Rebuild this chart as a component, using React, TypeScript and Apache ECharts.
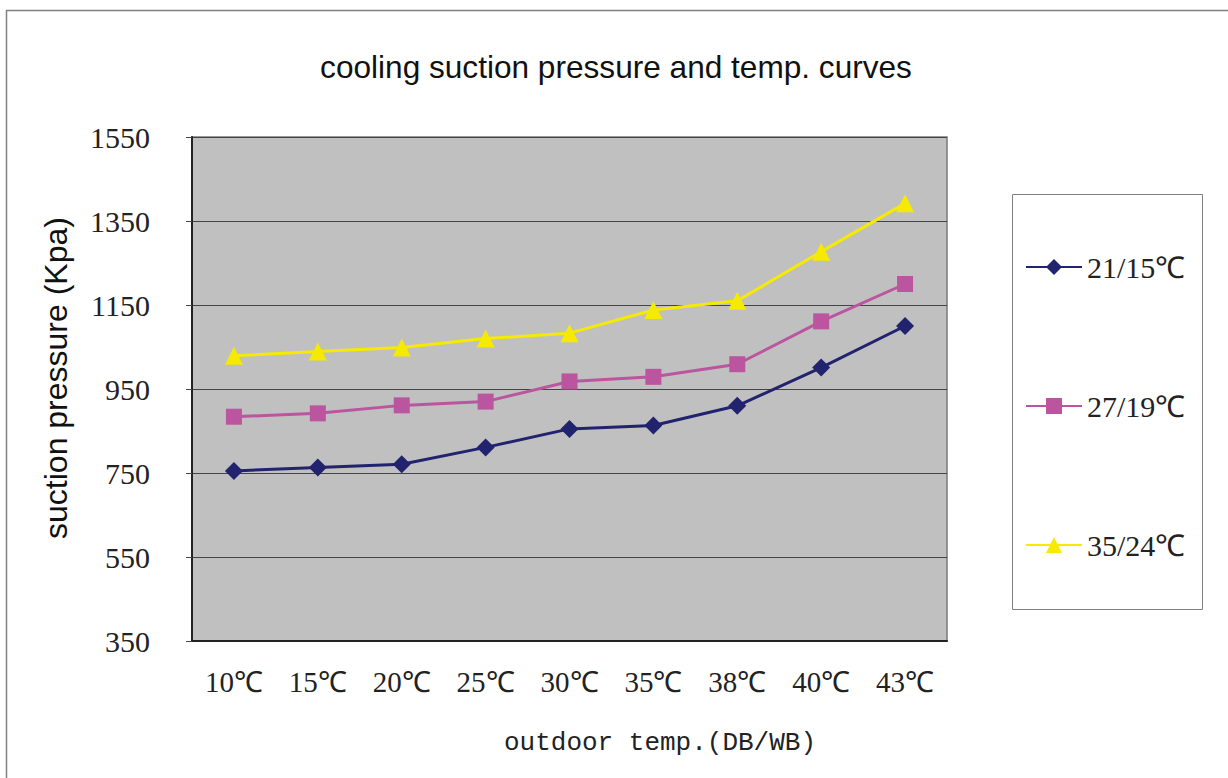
import React, { useEffect, useRef } from "react";
import * as echarts from "echarts";

const categories = ["10℃", "15℃", "20℃", "25℃", "30℃", "35℃", "38℃", "40℃", "43℃"];
const series21 = [755, 763, 771, 811, 855, 863, 910, 1001, 1100];
const series27 = [884, 892, 911, 920, 968, 979, 1009, 1111, 1200];
const series35 = [1029, 1039, 1049, 1070, 1083, 1138, 1160, 1277, 1392];
const seriesNames = ["21/15℃", "27/19℃", "35/24℃"];
const yMin = 350;
const yMax = 1550;
const yInterval = 200;

const SERIF = "Liberation Serif";
const SANS = "Liberation Sans";

export default function App() {
  const ref = useRef<HTMLDivElement>(null);
  useEffect(() => {
    document.body.style.margin = "0";
    const chart = echarts.init(ref.current!, null, { renderer: "svg" });
    const colors = ["#22236f", "#bb559f", "#f5ea00"];
    const symbols = ["diamond", "rect", "triangle"];
    const sizes = [18, 16, 18];
    const data = [series21, series27, series35];
    const legendCenters = [263, 402, 541];
    chart.setOption({
      animation: false,
      backgroundColor: "#ffffff",
      title: {
        text: "cooling suction pressure and temp. curves",
        left: 611,
        textAlign: "center",
        top: 46,
        textStyle: { fontFamily: SANS, fontSize: 31.6, fontWeight: "normal", color: "#111" },
      },
      graphic: [
        {
          type: "rect",
          shape: { x: 6.5, y: 10.5, width: 1260, height: 800 },
          style: { fill: "none", stroke: "#808080", lineWidth: 1.5 },
          silent: true,
          z: -10,
        },
        {
          type: "rect",
          shape: { x: 1012.5, y: 194.5, width: 190, height: 415 },
          style: { fill: "#fff", stroke: "#808080", lineWidth: 1 },
          silent: true,
          z: -5,
        },
        {
          type: "text",
          x: 56,
          y: 378,
          rotation: Math.PI / 2,
          style: {
            text: "suction pressure (Kpa)",
            fontFamily: SANS,
            fontSize: 32,
            fill: "#111",
            align: "center",
            verticalAlign: "middle",
          },
        },
        {
          type: "text",
          x: 660,
          y: 743,
          style: {
            text: "outdoor temp.(DB/WB)",
            fontFamily: "'Courier New', 'Liberation Mono', monospace",
            fontSize: 26,
            fill: "#222",
            align: "center",
            verticalAlign: "middle",
          },
        },
      ],
      legend: seriesNames.map((n, i) => ({
        data: [n],
        left: 1020,
        top: legendCenters[i] - 16,
        itemWidth: 56,
        itemHeight: 20,
        itemGap: 6,
        textStyle: { fontFamily: SERIF, fontSize: 30, color: "#222" },
      })),
      grid: {
        left: 192,
        top: 137,
        right: 1228 - 947,
        bottom: 778 - 641,
        show: true,
        backgroundColor: "#c0c0c0",
        borderColor: "#7a7a7a",
        borderWidth: 1.5,
      },
      xAxis: {
        type: "category",
        data: categories,
        boundaryGap: true,
        axisLine: { lineStyle: { color: "#222", width: 2 } },
        axisTick: { inside: true, length: 9, lineStyle: { color: "#444", width: 1 } },
        axisLabel: { margin: 26, fontFamily: SERIF, fontSize: 29, color: "#222" },
      },
      yAxis: {
        type: "value",
        min: yMin,
        max: yMax,
        interval: yInterval,
        axisLine: { show: true, lineStyle: { color: "#222", width: 2 } },
        axisTick: { show: true, length: 6, lineStyle: { color: "#444" } },
        splitLine: { show: true, lineStyle: { color: "#444", width: 1 } },
        axisLabel: {
          margin: 42,
          fontFamily: SERIF,
          fontSize: 30,
          color: "#222",
          formatter: (v: number) => String(v),
        },
      },
      series: seriesNames.map((n, i) => ({
        name: n,
        type: "line",
        data: data[i],
        symbol: symbols[i],
        symbolSize: sizes[i],
        showSymbol: true,
        lineStyle: { color: colors[i], width: 3 },
        itemStyle: { color: colors[i], borderWidth: 0 },
        z: 3 + i,
      })),
    });
    return () => chart.dispose();
  }, []);
  return (
    <div
      ref={ref}
      style={{ position: "absolute", left: 0, top: 0, width: 1228, height: 778 }}
    />
  );
}
